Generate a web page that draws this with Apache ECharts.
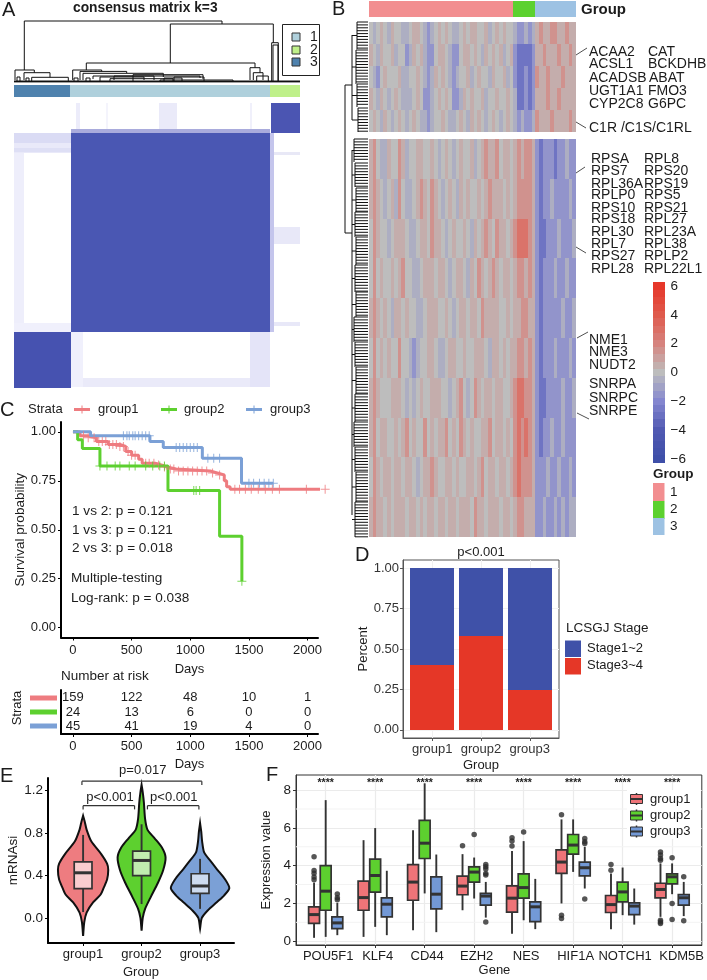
<!DOCTYPE html>
<html><head><meta charset="utf-8">
<style>html,body{margin:0;padding:0;background:#fff}#c{width:707px;height:980px}</style>
<script src="https://cdn.jsdelivr.net/npm/echarts@6/dist/echarts.min.js"></script>
</head><body><div id="c"></div>
<script>
// ---------- A: consensus matrix
const consensusCounts=[45,159,24];
const consensusColors=['#4F82AE','#AFD0DC','#BFF08A'];
// [x0,x1,y0,y1,colour] in matrix offset units
const consensusCells=[
[0,56.7,30,50,'#E9E9F9'],[0,56.7,30,40,'#DADBF4'],[0,56.7,45,49,'#DEDFF5'],[0,10,50,228.7,'#EEEEFB'],[0,56.7,220,228.7,'#F0F0FC'],
[56.7,256,26.3,30.3,'#A9ABDC'],[256,260,30.3,228.7,'#C4C5EC'],
[56.7,256,30.3,228.7,'#4A57B3'],
[257,286,0,29.7,'#4B55B2'],[0,56.7,228.7,285,'#4652B0'],
[236,256,228.7,284,'#E4E4F8'],[56.7,236,275,284,'#EAEAF9'],[56.7,69,228.7,284,'#F0F0FC'],
[260,286,49,51.5,'#E8E8F6'],[260,286,124,141,'#E8E8F8'],[260,286,219,223,'#E8E8F8'],
[62,66,0,26.3,'#ECECFA'],[145,163,0,26.3,'#EAEAF9'],[236,238,0,26.3,'#F0F0FB'],[92,94,0,26.3,'#F4F4FC']];
// [xLeft,xRight,top,leftBottom,rightBottom]
const consensusMerges=[
[10.3,208,61,12,58],[156.3,259.3,58,19,39.3],[257.7,264.3,39.3,0,0],[259,264,37,1,1],
[1,20.3,12,2,9.3],[10,36,9.3,2,4.7],[17.7,54.3,4.7,1,1],[3,6,5,1,1],[12,15,4,1,1],
[72.3,241,19,12,14.3],[236,246,14.3,2,9.3],[239.3,249,9.3,2,2],[242.7,254.3,6,1,1],
[58.7,87.7,12,2,10.6],[66,112.7,10.6,2,9],[69,149.3,8.7,2,5],[79,186,6,3,4],[119,189,7.3,1,3],
[96,159,3.3,1,1],[146,219,2,1,1],[60,64,4,1,1],[72,76,4,1,1],[150,168,4,1,1],[160,190,5,1,1],[100,140,6,2,2],[86,130,5,1,2],
[0,286,1,1,1],[0,286,0.5,0.5,0.5],[0,286,0.1,0.1,0.1]];
// ---------- B: heatmap
const groupCounts=[159,24,45];
const groupCols=[40,6,11];
const groupColors=['#F28E90','#5CD12F','#9DC2E3'];
const hmStrength={0:0,1:.55,2:1.5,3:2.8};
const hmTop=[
[0,-1,0,1,0,-1,1,0,0,-1,-1,0,1,1,0,-1,-2,-1,0,1,0,1,0,-1,-1,0,1,0,1,1,0,0,1,-1,0,1,0,1,0,0,-1,-2,-2,-1,-2,-1,1,2,1,1,2,2,1,1,2,1,1],
[1,0,-1,1,0,0,1,-1,0,0,-2,-1,1,0,1,-1,-2,-2,0,1,1,0,-1,-2,-2,0,1,1,0,1,0,-1,1,0,1,0,1,-1,0,1,-2,-3,-3,-3,-3,-2,1,1,2,1,1,1,2,1,1,2,1],
[0,-1,-2,0,1,0,0,0,1,-1,-1,0,0,1,0,-1,-2,-1,1,0,1,0,-1,-2,-1,0,0,1,-1,0,1,0,0,-1,1,0,0,1,-1,0,-2,-3,-3,-2,-3,-2,2,1,1,2,1,1,1,2,1,1,1],
[1,0,-1,1,0,-1,0,1,0,-1,-1,-1,0,1,0,-2,-2,-1,0,1,0,1,0,-2,-2,-1,1,0,1,0,0,1,-1,0,0,1,0,0,1,0,-1,-3,-3,-2,-3,-2,1,1,1,2,1,1,2,1,1,1,1],
[0,1,0,-1,1,0,-1,0,1,0,-1,0,1,0,-1,-1,-2,-1,0,0,1,0,-1,-1,0,1,0,-1,1,0,1,0,-1,0,1,0,-1,0,1,0,-1,-2,-1,-2,-2,-1,2,1,1,1,2,1,1,1,1,2,1]];
const hmBottom=[
[1,2,0,-1,-1,1,0,0,2,1,-1,0,0,1,1,0,0,1,0,-1,0,1,0,-1,0,1,0,0,1,-1,0,1,2,1,1,2,0,1,1,0,1,2,1,2,2,1,-2,-3,-2,-2,-2,-3,-2,-2,-1,-2,-2],
[1,2,1,0,-1,0,1,-1,2,0,-1,-1,0,1,2,1,0,2,1,0,-1,0,1,0,-1,1,0,1,0,0,1,0,1,2,1,1,1,0,1,0,1,2,2,2,2,1,-2,-3,-2,-2,-1,-2,-2,-2,-2,-1,-2],
[0,2,1,0,0,-1,0,1,1,1,0,-1,-1,0,1,1,0,2,1,1,0,-1,0,1,0,0,1,0,-1,1,0,1,2,1,0,2,1,1,0,1,2,3,3,3,2,1,-2,-3,-3,-2,-2,-2,-1,-2,-2,-2,-1],
[0,2,0,1,0,0,1,0,1,2,0,0,-1,-1,0,1,1,1,0,1,1,0,-1,0,1,1,0,-1,1,0,2,1,0,1,2,1,0,1,1,0,1,2,2,1,2,1,-2,-3,-2,-2,-2,-1,-2,-2,-1,-2,-2],
[1,2,1,0,1,0,-1,1,1,0,1,0,0,-1,-1,0,1,1,1,0,0,1,0,-1,0,1,1,0,1,1,0,2,1,1,1,1,0,0,1,0,1,1,2,2,1,1,-2,-3,-2,-2,-2,-2,-2,-1,-2,-2,-1],
[0,2,0,1,0,1,0,0,2,0,0,-1,-2,-1,0,0,1,1,0,-1,-1,0,1,1,0,0,1,0,0,1,1,1,0,-1,1,1,0,1,0,1,1,2,2,1,2,1,-2,-3,-2,-2,-2,-1,-2,-2,-2,-1,-2],
[1,2,1,0,0,0,1,1,1,0,-1,0,-1,0,1,0,0,1,1,1,0,0,-1,0,1,2,0,-1,0,2,1,0,1,1,0,1,1,0,0,1,2,3,3,2,2,1,-2,-3,-3,-2,-2,-2,-2,-1,-2,-2,-1],
[1,2,0,1,1,0,0,1,0,1,2,0,1,0,0,2,0,1,0,1,1,2,0,1,0,2,1,0,1,0,0,1,1,2,0,1,1,0,1,0,2,3,2,3,2,1,-2,-3,-2,-2,-1,-2,-2,-1,-2,-2,-2],
[0,2,1,0,1,1,0,1,1,0,1,1,0,-1,0,1,1,2,1,0,0,1,1,0,1,0,0,1,1,0,1,2,0,1,1,0,1,1,0,1,2,3,2,2,2,1,-2,-2,-2,-1,-2,-2,-1,-2,-2,-1,-2],
[1,2,1,1,0,1,0,1,1,1,0,1,1,0,1,0,1,1,0,1,1,0,1,1,0,1,1,1,0,2,1,1,0,1,1,1,0,1,1,0,1,2,2,1,1,1,-2,-2,-1,-2,-2,-1,-2,-1,-2,-1,-1]];
const colorbarTicks=[-6,-4,-2,0,2,4,6];
const colorbarLevels=[-6,-5.5,-5,-4.5,-4,-3.5,-3,-2.5,-2,-1.5,-1,-0.5,0,0.5,1,1.5,2,2.5,3,3.5,4,4.5,5,5.5,6];
const heatPalette=['#3E4FA8','#5059B2','#8486CF','#BDBDBD','#D6837E','#DF5A4C','#E6372A'];
// [yStart,yEnd,depth]
const rowCombs=[[0,27,11],[28,62,12],[62,85,11],[86,110,10],[117,140,14],[141,165,13],[166,190,12],[190,215,13],[215,243,12],[243,270,13],[270,295,12],[295,320,14],[320,345,13],[345,372,12],[372,400,13],[400,425,14],[425,450,13],[450,480,12],[480,515,13]];
const rowTrunks=[[23,63,23,211],[23,63,16,63],[23,211,16,211],[16,13,16,98],[16,128,16,493]];
const geneLabels=[
['ACAA2',589,52],['CAT',648,52],['ACSL1',589,64],['BCKDHB',648,64],['ACADSB',589,78],['ABAT',649,78],['UGT1A1',589,91],['FMO3',648,91],['CYP2C8',589,104],['G6PC',648,104],['C1R /C1S/C1RL',589,128],
['RPSA',591,159],['RPL8',644,159],['RPS7',591,171],['RPS20',644,171],['RPL36A',591,184],['RPS19',644,184],['RPLP0',591,195],['RPS5',644,195],['RPS10',591,208],['RPS21',644,208],['RPS18',591,219],['RPL27',644,219],['RPL30',591,232],['RPL23A',644,232],['RPL7',591,244],['RPL38',644,244],['RPS27',591,256],['RPLP2',644,256],['RPL28',591,269],['RPL22L1',644,269],
['NME1',589,340],['NME3',589,352],['NUDT2',589,365],['SNRPA',589,384],['SNRPC',589,398],['SNRPE',589,411]];
const geneLeaders=[[576,55,587,48],[576,122,586,128],[576,173,585,167],[576,247,586,253],[577,338,588,332],[577,413,589,419]];
// ---------- C: survival
const groups=['group1','group2','group3'];
const kmColors=['#EE7C80','#5DD02F','#7BA0D6'];
const km1=[[0,1],[60,.98],[120,.97],[200,.95],[300,.935],[400,.925],[450,.90],[500,.88],[560,.86],[590,.84],[700,.83],[760,.82],[800,.81],[880,.80],[1170,.79],[1230,.78],[1290,.75],[1310,.72],[1340,.707],[2150,.707]];
const km2=[[0,1],[40,.96],[80,.915],[230,.825],[810,.70],[1250,.467],[1440,.237],[1445,.237]];
const km3=[[0,1],[150,.98],[656,.95],[770,.92],[1103,.865],[1437,.737],[1708,.737]];
const censor1=[90,130,180,220,250,280,310,340,370,400,430,470,500,530,620,650,690,730,780,830,860,900,940,980,1020,1060,1100,1140,1190,1250,1380,1420,1470,1520,1580,1640,1700,1760,1990,2150];
const censor2=[230,290,360,400,480,530,620,680,740,780,1030,1050,1080,1440];
const censor3=[430,460,480,510,530,560,590,620,650,880,910,940,970,1000,1030,1060,1150,1200,1250,1500,1540,1590,1630,1670,1708];
const riskDays=[0,500,1000,1500,2000];
const risk1=[159,122,48,10,1];
const risk2=[24,13,6,0,0];
const risk3=[45,41,19,4,0];
// ---------- D: stage
const stage34=[.40,.58,.245];
const stage12=[.60,.42,.755];
// ---------- E: mRNAsi
const violin1=[[-.17,0],[-.04,.02],[.05,.06],[.145,.17],[.22,.3],[.28,.35],[.36,.41],[.45,.43],[.51,.41],[.6,.31],[.72,.14],[.83,.06],[.9,.03],[.96,0]];
const violin2=[[-.12,0],[0,.02],[.085,.06],[.2,.16],[.33,.28],[.45,.37],[.57,.41],[.66,.35],[.75,.22],[.83,.1],[.93,.06],[1.08,.04],[1.18,.02],[1.25,0]];
const violin3=[[-.1,0],[0,.03],[.07,.13],[.145,.28],[.21,.41],[.28,.5],[.36,.43],[.45,.3],[.54,.17],[.615,.07],[.72,.035],[.81,.02],[.89,0]];
// [min,q1,median,q3,max]
const miBoxes=[[.055,.276,.424,.527,.78],[.13,.397,.54,.627,.88],[.085,.23,.30,.415,.555]];
// ---------- F: expression
const genes=['POU5F1','KLF4','CD44','EZH2','NES','HIF1A','NOTCH1','KDM5B'];
const box1=[[.18,.94,1.41,1.82,3.1],[.23,1.64,2.31,3.18,5.35],[.58,2.17,3.13,4.05,5.88],[1.64,2.46,2.92,3.45,4.61],[.4,1.54,2.28,2.93,4.77],[2,3.59,4.19,4.84,6.45],[.64,1.52,1.94,2.42,3.59],[1.29,2.3,2.74,3.07,4.12]];
const box2=[[.23,1.64,2.65,4,7.47],[.76,2.6,3.48,4.35,5.99],[2.53,4.38,5.19,6.4,8.36],[2.26,3.13,3.66,3.94,4.43],[1.11,2.28,2.84,3.57,5.3],[3.67,4.61,5.09,5.65,6.45],[1.38,2.08,2.61,3.13,3.9],[2.49,3.04,3.41,3.57,4.12]];
const box3=[[.32,.67,.97,1.29,2.03],[.32,1.29,1.96,2.3,3.73],[.48,1.71,2.49,3.41,4.59],[1.25,1.91,2.39,2.53,3.14],[.64,1.04,1.82,2.08,3.3],[2.79,3.46,3.89,4.19,5],[.88,1.41,1.86,2.03,2.79],[1.33,1.91,2.3,2.47,3.14]];
const out1=[[4.47,3.75,3.6,3.4,3.25],[],[],[5.05],[5.48,5.3,5.04],[6.7,1.38,1.2],[4.06,3.76],[4.72,4.56,4.38,4.29,1.11,1.02,.94]];
const out2=[[],[],[],[5.65],[5.78],[],[],[4.42,2,1.15]];
const out3=[[2.5,2.3,2.2],[],[],[1.02,4.06,3.94,3.82,3.59,3.5],[],[2.24,5.44,5.27,5.18],[],[3.41,1.08]];
const fColors=['#EE7478','#5DD02F','#7399D6'];

const FONT='"Liberation Sans",Arial,sans-serif', INK='#1c1c1c';
const grids=[],xAxes=[],yAxes=[],series=[],g=[];
function hidden(min,max,inverse){return {type:'value',show:false,min,max,inverse:!!inverse};}
function addGrid(l,t,w,h,x,y){const i=grids.length;grids.push({left:l,top:t,width:w,height:h,containLabel:false});
  xAxes.push(Object.assign({gridIndex:i},x));yAxes.push(Object.assign({gridIndex:i},y));return i;}
const ax=(i)=>({xAxisIndex:i,yAxisIndex:i,coordinateSystem:'cartesian2d'});
function rectItem(params,api){const a=api.coord([api.value(0),api.value(2)]),b=api.coord([api.value(1),api.value(3)]);
  const x0=Math.round(Math.min(a[0],b[0])),x1=Math.round(Math.max(a[0],b[0])),y0=Math.round(Math.min(a[1],b[1])),y1=Math.round(Math.max(a[1],b[1]));
  return {type:'rect',shape:{x:x0,y:y0,width:x1-x0,height:y1-y0},style:{fill:api.visual('color')}};}
function rects(i,data,extra){series.push(Object.assign({type:'custom',...ax(i),renderItem:rectItem,encode:{x:[0,1],y:[2,3]},silent:true,data,clip:false},extra||{}));return series.length-1;}
function colored(x0,x1,y0,y1,c){return {value:[x0,x1,y0,y1],itemStyle:{color:c}};}
function segs(i,data,color,width){series.push({type:'custom',...ax(i),silent:true,clip:false,encode:{x:[0,2],y:[1,3]},data,itemStyle:{color},
  renderItem(p,api){const a=api.coord([api.value(0),api.value(1)]),b=api.coord([api.value(2),api.value(3)]);
    return {type:'line',shape:{x1:a[0],y1:a[1],x2:b[0],y2:b[1]},style:{stroke:color,lineWidth:width,lineCap:'butt'}};}});}
function labels(i,data,font,color){series.push({type:'custom',...ax(i),silent:true,clip:false,encode:{x:0,y:1},data:data.map(d=>[d[0],d[1]]),
  renderItem(p,api){const a=api.coord([api.value(0),api.value(1)]);
    return {type:'text',x:a[0],y:a[1],style:{text:String(data[p.dataIndex][2]),font,fill:color||INK,textAlign:'center',textVerticalAlign:'middle'}};}});}
function text(t,x,y,size,opt){opt=opt||{};g.push({type:'text',z:102,x,y,rotation:opt.rot||0,silent:true,style:{text:t,font:(opt.bold?'bold ':'')+size+'px '+FONT,fill:opt.color||INK,textAlign:opt.align||'left',textVerticalAlign:'middle'}});}
function rectG(x,y,w,h,fill,stroke,z){g.push({type:'rect',z:z||101,silent:true,shape:{x,y,width:w,height:h},style:{fill,stroke:stroke||null,lineWidth:stroke?1:0}});}
function lineG(x1,y1,x2,y2,c,w){g.push({type:'line',z:101,silent:true,shape:{x1,y1,x2,y2},style:{stroke:c,lineWidth:w}});}
function boxItem(p,api){const v=i=>api.value(i),c=v(0),hw=v(6),pt=(x,y)=>api.coord([x,y]);
  const st={stroke:'#333',lineWidth:1.7},lineEl=(x0,y0,x1,y1,w)=>{const a=pt(x0,y0),b=pt(x1,y1);return {type:'line',shape:{x1:a[0],y1:a[1],x2:b[0],y2:b[1]},style:{stroke:'#333',lineWidth:w||1.9}};};
  const a=pt(c-hw,v(4)),b=pt(c+hw,v(2));
  return {type:'group',children:[lineEl(c,v(1),c,v(2)),lineEl(c,v(4),c,v(5)),
    {type:'rect',shape:{x:a[0],y:a[1],width:b[0]-a[0],height:b[1]-a[1]},style:{fill:api.visual('color'),...st}},
    lineEl(c-hw,v(3),c+hw,v(3),3)]};}
function boxes(i,data,color,z){series.push({type:'custom',...ax(i),silent:true,clip:false,z:z||3,itemStyle:{color},encode:{x:0,y:[1,2,3,4,5]},renderItem:boxItem,data});}
const txtAxis={fontFamily:FONT,fontSize:13,color:INK};

// ---- Panel A
const aDend=addGrid(14,20,286,62,hidden(0,286),hidden(0,62));
const mergeSegs=[];consensusMerges.forEach(m=>{mergeSegs.push([m[0],m[2],m[1],m[2]]);if(m[3]!==m[2])mergeSegs.push([m[0],m[2],m[0],m[3]]);if(m[4]!==m[2])mergeSegs.push([m[1],m[2],m[1],m[4]]);});
segs(aDend,mergeSegs,'#111',1);
const aAnno=addGrid(14,85,286,12,hidden(0,228),hidden(0,1));
let cum=0;rects(aAnno,consensusCounts.map((n,i)=>{const d=colored(cum,cum+n,0,1,consensusColors[i]);cum+=n;return d;}));
const aMat=addGrid(14,103,286,285,hidden(0,286),hidden(0,285,true));
rects(aMat,consensusCells.map(c=>colored(c[0],c[1],c[2],c[3],c[4])));
text('consensus matrix k=3',73,8,13.8,{bold:true});
rectG(282.5,24.5,37,51,'#fff','#222',100);
[[37,'#AFD0DC','1'],[50,'#BFF08A','2'],[62,'#4F82AE','3']].forEach(k=>{rectG(292,k[0]-4,8,8,k[1],'#333');text(k[2],310,k[0],14,{align:'left'});});
// ---- Panel B
const bAnno=addGrid(369,1,207,16,hidden(0,228),hidden(0,1));
cum=0;rects(bAnno,groupCounts.map((n,i)=>{const d=colored(cum,cum+n,0,1,groupColors[i]);cum+=n;return d;}));
text('Group',581,10,15,{bold:true});
const bHeat=addGrid(369,22,207,515,hidden(0,228),hidden(0,515,true));
const colEdges=[0];groupCounts.forEach((n,gi)=>{const s=colEdges[colEdges.length-1];for(let k=1;k<=groupCols[gi];k++)colEdges.push(s+n*k/groupCols[gi]);});
const hmData=[];
function addRows(rows,y0,y1){const h=(y1-y0)/rows.length;rows.forEach((r,ri)=>r.forEach((v,ci)=>hmData.push([colEdges[ci],colEdges[ci+1],y0+ri*h,y0+(ri+1)*h,Math.sign(v)*hmStrength[Math.abs(v)]])));}
addRows(hmTop,0,110);addRows(hmBottom,117,515);
const heatIdx=rects(bHeat,hmData,{encode:{x:[0,1],y:[2,3]},dimensions:['x0','x1','y0','y1','v']});
const bDend=addGrid(345,22,23,515,hidden(0,23,true),hidden(0,515,true));
const rowSegs=[];
rowCombs.forEach(c=>{rowSegs.push([c[2],c[0],c[2],c[1]]);for(let y=c[0];y<=c[1];y+=2.9)rowSegs.push([c[2],y,0,y]);rowSegs.push([16,(c[0]+c[1])/2,c[2],(c[0]+c[1])/2]);});
rowTrunks.forEach(t=>rowSegs.push(t));
segs(bDend,rowSegs,'#111',1);
geneLabels.forEach(l=>text(l[0],l[1],l[2],14));
geneLeaders.forEach(l=>lineG(l[0],l[1],l[2],l[3],'#222',0.8));
const cb=addGrid(653,286,11.5,173,{type:'value',show:false,min:0,max:1},{type:'value',min:-6,max:6,position:'right',interval:2,
  axisLine:{show:false},axisTick:{show:false},splitLine:{show:false},axisLabel:{...txtAxis,fontSize:13.5,margin:6,formatter:v=>v<0?'\u2212'+(-v):String(v),customValues:colorbarTicks}});
const cbIdx=rects(cb,colorbarLevels.map(l=>[0,1,l-.25,l+.25,l]),{dimensions:['x0','x1','y0','y1','v']});
text('Group',653,474,13.5,{bold:true});
[[483,groupColors[0],'1',492],[501,groupColors[1],'2',509.5],[518,groupColors[2],'3',526]].forEach(k=>{rectG(653,k[0],11.5,k[0]==518?17:18,k[1]);text(k[2],670,k[3],13.5);});
// ---- Panel C
const daysFmt=v=>String(v);
function kmAxis(gap){return {type:'value',min:-102,max:2089,axisLine:{show:true,onZero:false,lineStyle:{color:'#000',width:2}},axisTick:{show:true,length:3,lineStyle:{color:'#000',width:1},customValues:riskDays},splitLine:{show:false},
  axisLabel:{...txtAxis,margin:6,formatter:daysFmt,customValues:riskDays},name:'Days',nameLocation:'middle',nameGap:gap,nameTextStyle:{...txtAxis}};}
const cKm=addGrid(61,422,257,215.5,kmAxis(25),{type:'value',min:-.05,max:1.05,axisLine:{show:true,onZero:false,lineStyle:{color:'#000',width:2}},axisTick:{show:true,length:3,lineStyle:{color:'#000',width:1},customValues:[0,.25,.5,.75,1]},splitLine:{show:false},
  axisLabel:{...txtAxis,margin:5,formatter:v=>v.toFixed(2),customValues:[0,.25,.5,.75,1]},name:'Survival probability',nameLocation:'middle',nameGap:18,nameTextStyle:{...txtAxis,fontSize:13.5}});
function surv(km,d){let s=1;km.forEach(p=>{if(p[0]<=d)s=p[1];});return s;}
[km1,km2,km3].forEach((km,i)=>{series.push({type:'line',name:groups[i],...ax(cKm),step:'end',data:km,showSymbol:false,clip:false,lineStyle:{color:kmColors[i],width:3},itemStyle:{color:kmColors[i]},z:2});});
[censor1,censor2,censor3].forEach((cs,i)=>{series.push({type:'scatter',...ax(cKm),silent:true,clip:false,symbol:'path://M-.9,-8H.9V-.9H8V.9H.9V8H-.9V.9H-8V-.9H-.9Z',symbolSize:9,itemStyle:{color:kmColors[i]},data:cs.map(d=>[d,surv([km1,km2,km3][i],d)])});});
const cTab=addGrid(61,690,257,44,kmAxis(24),{type:'value',min:0,max:3,axisLine:{show:true,onZero:false,lineStyle:{color:'#000',width:2}},axisTick:{show:false},axisLabel:{show:false},splitLine:{show:false}});
labels(cTab,[].concat(...[risk1,risk2,risk3].map((r,ri)=>r.map((v,ci)=>[riskDays[ci],2.5-ri,v]))),'13px '+FONT);
text('Strata',28,409.5,13);
[[74,98,0],[161,184,1],[246,270,2]].forEach(k=>{lineG(k[0],409.5,k[0]+16,409.5,kmColors[k[2]],3);lineG(k[0]+8,405.5,k[0]+8,413.5,kmColors[k[2]],1);text(groups[k[2]],k[1],409.5,13);});
[['1 vs 2: p = 0.121',72,511],['1 vs 3: p = 0.121',72,530],['2 vs 3: p = 0.018',72,548.5],['Multiple-testing',71,578.5],['Log-rank: p = 0.038',71,598]].forEach(t=>text(t[0],t[1],t[2],13.6));
text('Number at risk',61,676,13.5);
text('Strata',17,708,13,{rot:Math.PI/2,align:'center'});
[698,712,726].forEach((y,i)=>rectG(30,y-2.5,27,5,kmColors[i]));
// ---- Panel D
const dGrid=addGrid(403,560,156,178,{type:'value',min:.4,max:3.6,axisLine:{lineStyle:{color:'#555',width:1},onZero:false},axisTick:{length:3,lineStyle:{color:'#555'},customValues:[1,2,3]},
   axisLabel:{...txtAxis,margin:5,color:'#333',formatter:v=>groups[v-1],customValues:[1,2,3],showMinLabel:true,showMaxLabel:true},splitLine:{show:true,lineStyle:{color:'#f1f1f1'}},
   name:'Group',nameLocation:'middle',nameGap:21,nameTextStyle:{...txtAxis}},
  {type:'value',min:-.05,max:1.05,axisLine:{show:true,lineStyle:{color:'#555',width:1},onZero:false},axisTick:{show:true,length:3,lineStyle:{color:'#555'},customValues:[0,.25,.5,.75,1]},
   axisLabel:{...txtAxis,margin:4,color:'#333',formatter:v=>v.toFixed(2),customValues:[0,.25,.5,.75,1]},splitLine:{show:true,lineStyle:{color:'#f1f1f1'}},
   name:'Percent',nameLocation:'middle',nameGap:8,nameTextStyle:{...txtAxis}});
grids[dGrid].show=true;grids[dGrid].borderColor='#555';grids[dGrid].borderWidth=1;grids[dGrid].backgroundColor='#fff';
const barHalf=.45;
rects(dGrid,stage34.map((v,i)=>colored(i+1-barHalf,i+1+barHalf,0,v,'#E53727')),{z:3,name:'Stage3~4'});
rects(dGrid,stage12.map((v,i)=>colored(i+1-barHalf,i+1+barHalf,stage34[i],stage34[i]+v,'#3F51A8')),{z:3,name:'Stage1~2'});
labels(dGrid,[[2,1.095,'p<0.001']],'13px '+FONT);
text('LCSGJ Stage',566,628,13.5);
rectG(565,640.5,16,16.5,'#3F51A8');rectG(565,658,16,16.5,'#E53727');
text('Stage1~2',587,648,13);text('Stage3~4',587,665,13);
// ---- Panel E
const eGrid=addGrid(48,778,186,170.5,{type:'value',min:.4,max:3.58,axisLine:{show:true,onZero:false,lineStyle:{color:'#000',width:2}},axisTick:{show:true,length:3,lineStyle:{color:'#000',width:1},customValues:[1,2,3]},splitLine:{show:false},
    axisLabel:{...txtAxis,margin:5,formatter:v=>groups[v-1],customValues:[1,2,3]},name:'Group',nameLocation:'middle',nameGap:23,nameTextStyle:{...txtAxis}},
  {type:'value',min:-.236,max:1.315,axisLine:{show:true,onZero:false,lineStyle:{color:'#000',width:2}},axisTick:{show:true,length:3,lineStyle:{color:'#000',width:1},customValues:[0,.4,.8,1.2]},splitLine:{show:false},
    axisLabel:{...txtAxis,fontSize:13.5,margin:5,formatter:v=>v.toFixed(1),customValues:[0,.4,.8,1.2]},name:'mRNAsi',nameLocation:'middle',nameGap:6,nameTextStyle:{...txtAxis,fontSize:13.5}});
const violins=[violin1,violin2,violin3];
series.push({type:'custom',...ax(eGrid),silent:true,clip:false,encode:{x:0},data:[[1],[2],[3]],
  renderItem(p,api){const c=api.value(0),prof=violins[p.dataIndex];
    const left=prof.map(d=>api.coord([c-d[1],d[0]])),right=prof.slice().reverse().map(d=>api.coord([c+d[1],d[0]]));
    return {type:'polygon',shape:{points:left.concat(right),smooth:0.25},style:{fill:kmColors[p.dataIndex],stroke:'#111',lineWidth:2}};}});
boxes(eGrid,miBoxes.map((b,i)=>[i+1,...b,.152]),'rgba(255,255,255,0.62)',4);
segs(eGrid,[[.98,1.285,3.03,1.285],[.98,1.285,.98,1.25],[3.03,1.285,3.03,1.25],[1,1.055,1.88,1.055],[1,1.055,1,1.02],[1.88,1.055,1.88,1.02],[2.1,1.055,2.98,1.055],[2.1,1.055,2.1,1.02],[2.98,1.055,2.98,1.02]],'#333',1.2);
labels(eGrid,[[2.02,1.385,'p=0.017'],[1.46,1.13,'p<0.001'],[2.55,1.13,'p<0.001']],'13px '+FONT);
// ---- Panel F
const fGrid=addGrid(296,775,407,170,{type:'value',min:.4,max:8.6,axisLine:{lineStyle:{color:'#333',width:1},onZero:false},axisTick:{length:3,lineStyle:{color:'#333'},customValues:[1,2,3,4,5,6,7,8]},
    axisLabel:{...txtAxis,margin:5,padding:[0,0,0,5],formatter:v=>v===8?'{k|KDM5B}':genes[v-1],rich:{k:{fontFamily:FONT,fontSize:13,color:INK,padding:[0,0,0,14]}},customValues:[1,2,3,4,5,6,7,8],hideOverlap:false},splitLine:{show:true,lineStyle:{color:'#ebebeb',width:1.2}}},
  {type:'value',min:-.2,max:8.8,axisLine:{show:true,lineStyle:{color:'#333',width:1},onZero:false},axisTick:{show:true,length:3,lineStyle:{color:'#333'},customValues:[0,2,4,6,8]},
    axisLabel:{...txtAxis,fontSize:13.5,margin:5,customValues:[0,2,4,6,8]},splitLine:{show:true,lineStyle:{color:'#ebebeb',width:1.2}},
    name:'Expression value',nameLocation:'middle',nameGap:11,nameTextStyle:{...txtAxis}});
grids[fGrid].show=true;grids[fGrid].borderColor='#333';grids[fGrid].borderWidth=1;grids[fGrid].backgroundColor='#fff';
segs(fGrid,[1,3,5,7].map(v=>[.4,v,8.6,v]),'#f3f3f3',1);
const off=[-.235,0,.235];
[box1,box2,box3].forEach((bx,i)=>boxes(fGrid,bx.map((b,k)=>[k+1+off[i],...b,.11]),fColors[i]));
const outPts=[];[out1,out2,out3].forEach((o,i)=>o.forEach((vals,k)=>vals.forEach(v=>outPts.push([k+1+off[i],v]))));
series.push({type:'scatter',...ax(fGrid),silent:true,symbolSize:5.5,itemStyle:{color:'#2c2c2c'},data:outPts,z:3});
labels(fGrid,genes.map((n,k)=>[k+1,8.36,'****']),'bold 10.5px '+FONT,'#222');
labels(fGrid,[[4.41,-1.535,'Gene']],'13px '+FONT);
rectG(627,790,74,49,'#fff',null,100);
[[799,0],[815.5,1],[831.5,2]].forEach(k=>{lineG(636.5,k[0]-6,636.5,k[0]+6,'#333',1.5);rectG(630.5,k[0]-4.5,12,9,fColors[k[1]],'#333');lineG(630.5,k[0],642.5,k[0],'#333',2);text(groups[k[1]],650,k[0],13);});
// Panel letters
[['A',2,10],['B',332,9],['C',0,410],['D',355,555],['E',0,776],['F',266,775]].forEach(l=>text(l[0],l[1],l[2],20));

const chart=echarts.init(document.getElementById('c'),null,{renderer:'canvas'});
chart.setOption({animation:false,backgroundColor:'#fff',textStyle:{fontFamily:FONT},
  tooltip:{show:false},grid:grids,xAxis:xAxes,yAxis:yAxes,series,graphic:{elements:g},
  visualMap:[{type:'continuous',show:false,min:-6,max:6,dimension:4,seriesIndex:[heatIdx,cbIdx],inRange:{color:heatPalette}}]});
</script></body></html>
